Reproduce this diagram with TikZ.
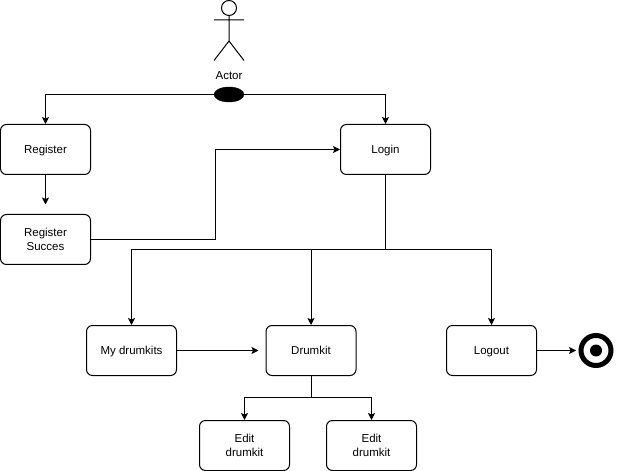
\documentclass[tikz,border=0pt]{standalone}
\usepackage{fontspec}
\setmainfont{Liberation Sans}
\usetikzlibrary{arrows.meta}
\usetikzlibrary{shapes.geometric}
\tikzset{
  screen/.style={draw,rounded corners=6pt,minimum width=90bp,minimum height=50bp,align=center,font=\fontsize{11.5bp}{14bp}\selectfont,inner sep=0pt,line width=1bp},
  oneline/.style={text height=10.5bp,text depth=2.5bp},
  link/.style={-{Stealth[length=7bp,width=7bp,inset=1.5bp]},line width=1bp},
  plain/.style={line width=1bp}
}
\begin{document}
\begin{tikzpicture}[x=1bp,y=-1bp]
  \useasboundingbox (0,0) rectangle (617,471);
  % actor
  \draw[plain] (229,8) circle (7.5);
  \draw[plain] (229,15.5) -- (229,41) (214,20) -- (244,20) (229,41) -- (214,60.5) (229,41) -- (244,60.5);
  \node[font=\fontsize{11.5bp}{14bp}\selectfont] (actor) at (229,76) {Actor};
  \node[draw,fill=black,ellipse,minimum width=30bp,minimum height=15bp,inner sep=0pt] (fork) at (229,94.5) {};
  % nodes
  \node[screen,oneline] (register) at (45.5,149.5) {Register};
  \node[screen] (succes) at (45.5,239.5) {Register\\Succes};
  \node[screen,oneline] (login) at (385.5,149.5) {Login};
  \node[screen,oneline] (drumkits) at (131.5,350.5) {My drumkits};
  \node[screen,oneline] (drumkit) at (311,350.5) {Drumkit};
  \node[screen,oneline] (logout) at (491.5,350.5) {Logout};
  \node[screen] (editl) at (244.5,445.5) {Edit\\drumkit};
  \node[screen] (editr) at (371.5,445.5) {Edit\\drumkit};
  % end
  \node[draw,circle,line width=5bp,minimum size=30bp,inner sep=0pt] (finish) at (596,350.5) {};
  \node[fill=black,circle,minimum size=12bp,inner sep=0pt] (dot) at (finish) {};
  \coordinate (split) at (385.5,249.5);
  \coordinate (splitb) at (311,397.5);
  \coordinate (succesend) at (45.5,204.5);
  \coordinate (drumkitend) at (258.5,350.5);
  \coordinate (finishend) at (576,350.5);
  % links
  \draw[link] (fork) -| (register);
  \draw[link] (fork) -| (login);
  \draw[link] (register) -- (succesend);
  \draw[link] (succes.east) -- (215.5,239.5) |- (login.west);
  \draw[plain] (login) -- (split);
  \draw[link] (split) -| (drumkits);
  \draw[link] (split) -| (drumkit);
  \draw[link] (split) -| (logout);
  \draw[link] (drumkits) -- (drumkitend);
  \draw[link] (logout) -- (finishend);
  \draw[plain] (drumkit) -- (splitb);
  \draw[link] (splitb) -| (editl);
  \draw[link] (splitb) -| (editr);
\end{tikzpicture}
\end{document}
